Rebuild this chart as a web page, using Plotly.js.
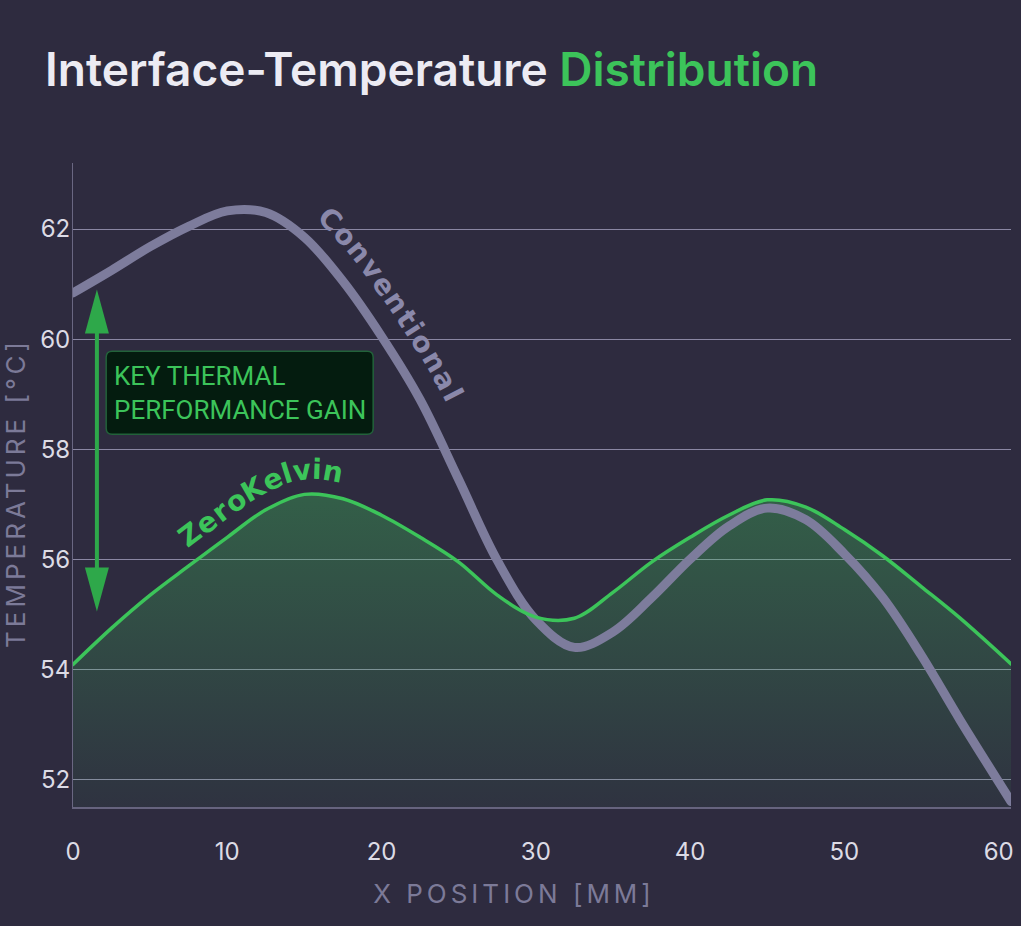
<!DOCTYPE html>
<html>
<head>
<meta charset="utf-8">
<script src="https://cdn.plot.ly/plotly-3.0.1.min.js"></script>
<style>
  html, body { margin: 0; padding: 0; background: #2e2b3f; }
  #chart { width: 1021px; height: 926px; }
</style>
</head>
<body>
<div id="chart"></div>
<script>
// Interface temperature along the contact, two thermal solutions
const positionMm = [0, 2.5, 5, 7.5, 10, 12.5, 15, 17.5, 20, 22.5, 25, 27.5, 30, 32.5, 35, 37.5, 40, 42.5, 45, 47.5, 50, 52.5, 55, 57.5, 60.8];
const conventionalC = [60.84, 61.25, 61.68, 62.05, 62.33, 62.3, 61.85, 61.05, 60.05, 58.9, 57.45, 55.98, 54.9, 54.4, 54.68, 55.3, 56.0, 56.6, 56.93, 56.72, 56.1, 55.3, 54.25, 53.08, 51.6];
const zeroKelvinC   = [54.09, 54.75, 55.35, 55.88, 56.4, 56.9, 57.18, 57.1, 56.8, 56.4, 55.95, 55.35, 54.95, 54.93, 55.4, 55.95, 56.4, 56.8, 57.08, 56.95, 56.54, 56.06, 55.5, 54.93, 54.1];
const xTicks = [0, 10, 20, 30, 40, 50, 60];
const yTicks = [52, 54, 56, 58, 60, 62];

const W = 1021, H = 926;
const M = { l: 73, r: 10, t: 163, b: 119 };
const xRange = [0, 60.8];
const yRange = [51.5, 63.2];

const BG = '#2e2b3f';
const GREEN = '#3cc45a';
const GREY_LINE = '#7d7c9c';
const ARROW_GREEN = '#2ea84a';

// data <-> pixel helpers for the fixed plot area
const plotW = W - M.l - M.r, plotH = H - M.t - M.b;
const px = x => M.l + (x - xRange[0]) / (xRange[1] - xRange[0]) * plotW;
const py = y => M.t + (yRange[1] - y) / (yRange[1] - yRange[0]) * plotH;
const xOf = p => xRange[0] + (p - M.l) / plotW * (xRange[1] - xRange[0]);
const yOf = p => yRange[1] - (p - M.t) / plotH * (yRange[1] - yRange[0]);

// smooth pixel path through a series (Catmull-Rom)
function curvePixels(xs, ys) {
  const P = xs.map((x, i) => [px(x), py(ys[i])]);
  const out = [];
  for (let i = 0; i < P.length - 1; i++) {
    const p0 = P[Math.max(i - 1, 0)], p1 = P[i], p2 = P[i + 1], p3 = P[Math.min(i + 2, P.length - 1)];
    for (let k = 0; k < 20; k++) {
      const t = k / 20, t2 = t * t, t3 = t2 * t;
      out.push([0, 1].map(j => 0.5 * (2 * p1[j] + (-p0[j] + p2[j]) * t +
        (2 * p0[j] - 5 * p1[j] + 4 * p2[j] - p3[j]) * t2 +
        (-p0[j] + 3 * p1[j] - 3 * p2[j] + p3[j]) * t3)));
    }
  }
  out.push(P[P.length - 1]);
  return out;
}

function offsetPath(pts, d) {
  return pts.map((p, i) => {
    const a = pts[Math.max(i - 1, 0)], b = pts[Math.min(i + 1, pts.length - 1)];
    const dx = b[0] - a[0], dy = b[1] - a[1], L = Math.hypot(dx, dy) || 1;
    return [p[0] + dy / L * d, p[1] - dx / L * d];
  });
}

// letters laid out one by one along a series, as rotated annotations
function textAlongCurve(label, xs, ys, opts) {
  const base = curvePixels(xs, ys);
  const path = offsetPath(base, opts.offset);
  const i0 = base.findIndex(p => p[0] >= px(opts.startX));
  const pts = path.slice(i0);
  const cum = [0];
  for (let i = 1; i < pts.length; i++) cum.push(cum[i - 1] + Math.hypot(pts[i][0] - pts[i - 1][0], pts[i][1] - pts[i - 1][1]));
  const at = s => {
    s = Math.max(0, Math.min(s, cum[cum.length - 1]));
    let i = 1;
    while (i < cum.length - 1 && cum[i] < s) i++;
    const f = (s - cum[i - 1]) / ((cum[i] - cum[i - 1]) || 1);
    return [pts[i - 1][0] + (pts[i][0] - pts[i - 1][0]) * f, pts[i - 1][1] + (pts[i][1] - pts[i - 1][1]) * f];
  };
  const ctx = document.createElement('canvas').getContext('2d');
  ctx.font = `bold ${opts.size}px "DejaVu Sans"`;
  const anns = [];
  let s = 0;
  for (const ch of label) {
    const w = ctx.measureText(ch).width;
    const c = s + w / 2;
    const p = at(c), a = at(c - 8), b = at(c + 8);
    const ang = Math.atan2(b[1] - a[1], b[0] - a[0]) * 180 / Math.PI;
    anns.push({
      x: xOf(p[0]), y: yOf(p[1]), xref: 'x', yref: 'y',
      text: ch, showarrow: false, textangle: ang,
      xanchor: 'center', yanchor: 'middle',
      font: { family: 'DejaVu Sans', size: opts.size, weight: 700, color: opts.color }
    });
    s += w + opts.spacing;
  }
  return anns;
}

// gain callout: arrow from the conventional level down to the ZeroKelvin level
const gainArrowX = 1.55, gainTop = 60.9, gainBottom = 55.05;
const headLen = 44, headHalf = 12;
const callout = { x: 2.15, y: 59.78, w: 267, h: 83, r: 6 };

const traces = [
  {
    x: positionMm, y: zeroKelvinC, type: 'scatter', mode: 'lines',
    line: { width: 0, shape: 'spline', color: 'rgba(0,0,0,0)' },
    fill: 'tozeroy',
    fillgradient: {
      type: 'vertical', start: 51.5, stop: 57.2,
      colorscale: [[0, 'rgba(61,196,90,0.05)'], [1, 'rgba(61,196,90,0.34)']]
    },
    hoverinfo: 'skip', showlegend: false
  },
  {
    x: positionMm, y: conventionalC, type: 'scatter', mode: 'lines', name: 'Conventional',
    line: { color: GREY_LINE, width: 9, shape: 'spline' },
    hoverinfo: 'skip', showlegend: false
  },
  {
    x: positionMm, y: zeroKelvinC, type: 'scatter', mode: 'lines', name: 'ZeroKelvin',
    line: { color: GREEN, width: 3.5, shape: 'spline' },
    hoverinfo: 'skip', showlegend: false
  }
];

const r = callout.r, bw = callout.w, bh = callout.h;
const boxPath = `M${r},0 H${bw - r} Q${bw},0 ${bw},${-r} V${-(bh - r)} Q${bw},${-bh} ${bw - r},${-bh} ` +
  `H${r} Q0,${-bh} 0,${-(bh - r)} V${-r} Q0,0 ${r},0 Z`;

const shapes = [
  {
    type: 'line', xref: 'x', yref: 'y',
    x0: gainArrowX, x1: gainArrowX,
    y0: yOf(py(gainTop) + 20), y1: yOf(py(gainBottom) - 20),
    line: { color: ARROW_GREEN, width: 4 }
  },
  {
    type: 'path', xref: 'x', yref: 'y', xsizemode: 'pixel', ysizemode: 'pixel',
    xanchor: gainArrowX, yanchor: gainTop,
    path: `M0,0 L${-headHalf},${-headLen} L${headHalf},${-headLen} Z`,
    fillcolor: ARROW_GREEN, line: { width: 0 }
  },
  {
    type: 'path', xref: 'x', yref: 'y', xsizemode: 'pixel', ysizemode: 'pixel',
    xanchor: gainArrowX, yanchor: gainBottom,
    path: `M0,0 L${-headHalf},${headLen} L${headHalf},${headLen} Z`,
    fillcolor: ARROW_GREEN, line: { width: 0 }
  },
  {
    type: 'path', xref: 'x', yref: 'y', xsizemode: 'pixel', ysizemode: 'pixel',
    xanchor: callout.x, yanchor: callout.y,
    path: boxPath, fillcolor: '#041c0f', line: { color: '#22623a', width: 1.5 }
  }
];

const annotations = [
  {
    x: xOf(px(callout.x) + 6), y: yOf(py(callout.y) + bh / 2),
    xref: 'x', yref: 'y', xanchor: 'left', yanchor: 'middle', align: 'left',
    text: 'KEY THERMAL<br>PERFORMANCE GAIN', showarrow: false,
    font: { family: 'Roboto', size: 26, color: GREEN }
  },
  ...textAlongCurve('Conventional', positionMm, conventionalC,
    { startX: 14.8, offset: 31, size: 28, spacing: 2.0, color: '#8a88aa' }),
  ...textAlongCurve('ZeroKelvin', positionMm, zeroKelvinC,
    { startX: 8.0, offset: 24, size: 28, spacing: 1.2, color: GREEN })
];

const axisFont = { family: 'Inter', size: 24, color: '#dcdbe5' };
const axisTitleFont = { family: 'Inter', size: 26, color: '#7c7a98' };
const TITLE_SPACING = 4;

const layout = {
  width: W, height: H,
  margin: M,
  paper_bgcolor: BG, plot_bgcolor: BG,
  showlegend: false,
  title: {
    text: "Interface-Temperature <span style='color:" + GREEN + "'>Distribution</span>",
    font: { family: 'Inter', size: 46, weight: 600, color: '#ecebf3' },
    x: 45 / W, xanchor: 'left', xref: 'container',
    y: 1 - 70 / H, yanchor: 'middle', yref: 'container'
  },
  xaxis: {
    range: xRange, tickvals: xTicks, ticktext: xTicks.map(String),
    showgrid: false, zeroline: false,
    showline: true, linecolor: '#66637e', linewidth: 2,
    ticks: '', ticklabelstandoff: 22, tickfont: axisFont,
    title: { text: 'X POSITION [MM]', font: axisTitleFont, standoff: 20 },
    fixedrange: true
  },
  yaxis: {
    range: yRange, tickvals: yTicks, ticktext: yTicks.map(String),
    showgrid: true, gridcolor: '#8a87a3', gridwidth: 1, zeroline: false,
    showline: true, linecolor: '#6a6782', linewidth: 1,
    ticks: '', ticklabelstandoff: -3, tickfont: axisFont,
    title: { text: 'TEMPERATURE [°C]', font: axisTitleFont, standoff: 10 },
    fixedrange: true
  },
  shapes: shapes,
  annotations: annotations
};

Plotly.newPlot('chart', traces, layout, { staticPlot: true, displayModeBar: false }).then(gd => {
  // rounded line ends and spaced-out axis titles (x title centred on the page)
  gd.querySelectorAll('.scatterlayer .js-line').forEach(p => { p.style.strokeLinecap = 'round'; });
  const xt = gd.querySelector('.g-xtitle text');
  if (xt) {
    xt.style.letterSpacing = TITLE_SPACING + 'px';
    xt.setAttribute('dx', -((xt.textContent.length - 1) * TITLE_SPACING) / 2);
  }
  const yt = gd.querySelector('.g-ytitle text');
  if (yt) {
    yt.style.letterSpacing = TITLE_SPACING + 'px';
    yt.setAttribute('dx', -8);
  }
});
</script>
</body>
</html>
